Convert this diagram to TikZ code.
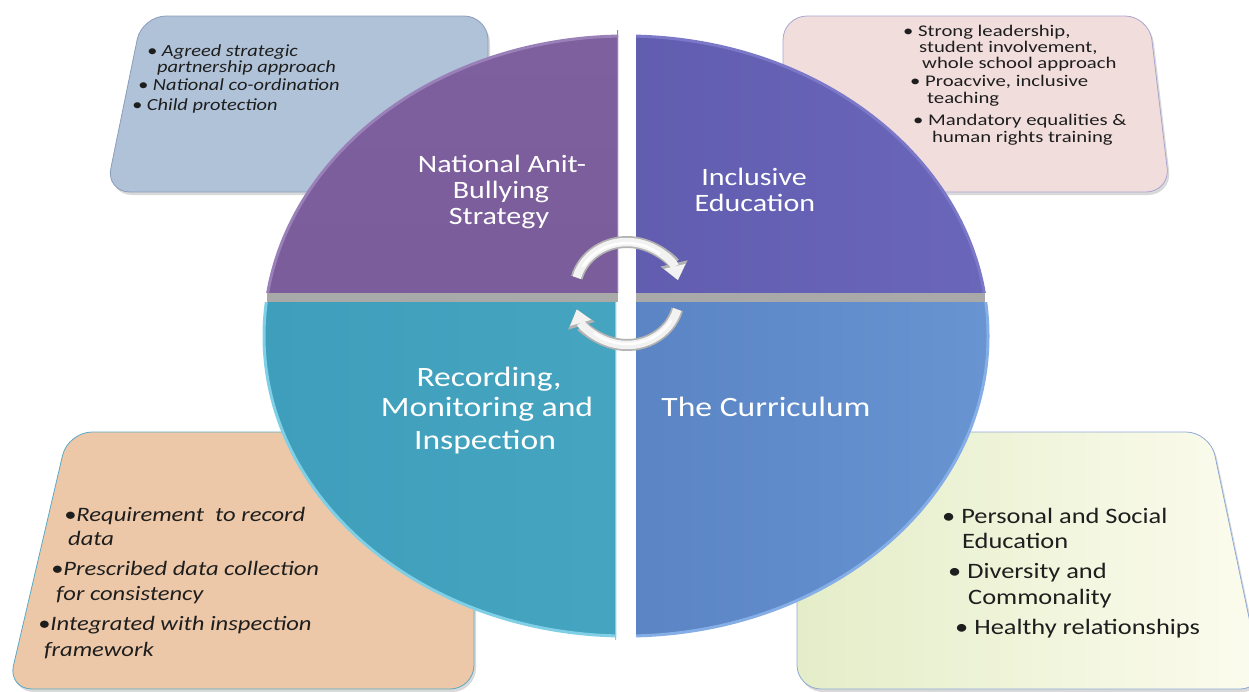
\documentclass[tikz,border=0pt]{standalone}
\usepackage{fontspec}
\setmainfont{Carlito}
\newfontfamily\wf[FakeStretch=1.2]{Carlito}
\newfontfamily\wfn[FakeStretch=1.27]{Carlito}
\usetikzlibrary{arrows.meta}
\definecolor{boxTL}{HTML}{B0C2D8}
\definecolor{boxTLb}{HTML}{8A9DBB}
\definecolor{boxTR}{HTML}{F2DDDD}
\definecolor{boxTRb}{HTML}{A8A6D0}
\definecolor{boxBL}{HTML}{ECC8A8}
\definecolor{boxBLb}{HTML}{5AAAC4}
\definecolor{boxBRl}{HTML}{E4EDC8}
\definecolor{boxBRr}{HTML}{FCFCEE}
\definecolor{boxBRb}{HTML}{8EAAD6}
\definecolor{qTLa}{HTML}{7D609D}
\definecolor{qTLb}{HTML}{765896}
\definecolor{qTLr}{HTML}{9A80B8}
\definecolor{qTRa}{HTML}{5853A5}
\definecolor{qTRb}{HTML}{6A66B9}
\definecolor{qTRr}{HTML}{7C78C8}
\definecolor{qBLa}{HTML}{3F9EBB}
\definecolor{qBLb}{HTML}{4CACC6}
\definecolor{qBLr}{HTML}{7FD0E6}
\definecolor{qBRa}{HTML}{4C74B6}
\definecolor{qBRb}{HTML}{6894D2}
\definecolor{qBRr}{HTML}{86AEE6}
\definecolor{band}{HTML}{A9A9A9}
\definecolor{txt}{HTML}{1E1E1E}
\tikzset{
 boxshape/.style={rounded corners=24pt, line width=0.8pt},
 boxshadow/.style={rounded corners=24pt, fill=black, opacity=0.15},
 qlab/.style={anchor=base, inner sep=0pt, text=white, font=\wf\fontsize{25}{25}\selectfont},
 qlabB/.style={qlab, font=\wf\fontsize{28}{28}\selectfont},
 tltxt/.style={anchor=base west, inner sep=0pt, text=txt, font=\wf\itshape\fontsize{17}{17}\selectfont},
 trtxt/.style={anchor=base west, inner sep=0pt, text=txt, font=\wfn\fontsize{16.3}{16.3}\selectfont},
 bltxt/.style={anchor=base west, inner sep=0pt, text=txt, font=\wf\itshape\fontsize{20.5}{20.5}\selectfont},
 brtxt/.style={anchor=base west, inner sep=0pt, text=txt, font=\wf\fontsize{22}{22}\selectfont},
 quadrim/.style={line width=3pt},
 cycout/.style={line width=12pt, draw=gray!60, -{Triangle[length=17pt,width=28pt,line width=0pt]}},
 cycin/.style={line width=8.5pt, draw=gray!10, -{Triangle[length=14pt,width=22pt,line width=0pt]}},
 cychi/.style={line width=2.5pt, draw=white},
}
\begin{document}
\begin{tikzpicture}[x=1pt,y=-1pt]
\useasboundingbox (0,0) rectangle (1249,691);
\clip (0,0) rectangle (1249,691);

% ---------- boxes ----------
\fill[boxshadow, xshift=2pt, yshift=-3pt] (300,16) -- (488,16) -- (488,192) -- (106,192) -- (142,16) -- cycle;
\draw[boxshape, fill=boxTL, draw=boxTLb] (300,16) -- (488,16) -- (488,192) -- (106,192) -- (142,16) -- cycle;

\fill[boxshadow, xshift=2pt, yshift=-3pt] (960,16) -- (1149,16) -- (1170,192) -- (783,192) -- (783,16) -- cycle;
\draw[boxshape, fill=boxTR, draw=boxTRb] (960,16) -- (1149,16) -- (1170,192) -- (783,192) -- (783,16) -- cycle;

\fill[boxshadow, xshift=2pt, yshift=-3pt] (300,432) -- (474,432) -- (474,689) -- (8,689) -- (68,432) -- cycle;
\draw[boxshape, fill=boxBL, draw=boxBLb] (300,432) -- (474,432) -- (474,689) -- (8,689) -- (68,432) -- cycle;

\fill[boxshadow, xshift=2pt, yshift=-3pt] (1000,432) -- (1210,432) -- (1264,689) -- (797,689) -- (797,432) -- cycle;
\draw[boxshape, left color=boxBRl, right color=boxBRr, draw=boxBRb] (1000,432) -- (1210,432) -- (1264,689) -- (797,689) -- (797,432) -- cycle;

% ---------- box texts ----------
\node[tltxt] (tl1) at (147,56) {\textbullet\ Agreed strategic};
\node[tltxt] (tl2) at (157,72) {partnership approach};
\node[tltxt] (tl3) at (138,90) {\textbullet\ National co-ordination};
\node[tltxt] (tl4) at (132,110) {\textbullet\ Child protection};

\node[trtxt] (tr1) at (903,36) {\textbullet\ Strong leadership,};
\node[trtxt] (tr2) at (919,52.5) {student involvement,};
\node[trtxt] (tr3) at (922,68.5) {whole school approach};
\node[trtxt] (tr4) at (910,86) {\textbullet\ Proacvive, inclusive};
\node[trtxt] (tr5) at (927,103) {teaching};
\node[trtxt] (tr6) at (913,125) {\textbullet\ Mandatory equalities \&};
\node[trtxt] (tr7) at (932,142) {human rights training};

\node[bltxt] (bl1) at (64,521) {\textbullet Requirement\ \ to record};
\node[bltxt] (bl2) at (68,545) {data};
\node[bltxt] (bl3) at (51,575) {\textbullet Prescribed data collection};
\node[bltxt] (bl4) at (56,600) {for consistency};
\node[bltxt] (bl5) at (38,630) {\textbullet Integrated with inspection};
\node[bltxt] (bl6) at (44,656) {framework};

\node[brtxt] (br1) at (942,523) {\textbullet\ Personal and Social};
\node[brtxt] (br2) at (962,548) {Education};
\node[brtxt] (br3) at (948,578) {\textbullet\ Diversity and};
\node[brtxt] (br4) at (968,604) {Commonality};
\node[brtxt] (br5) at (955,634) {\textbullet\ Healthy relationships};

% ---------- grey thickness band ----------
\fill[band] (267,292) rectangle (618,302);
\fill[band] (636,292) rectangle (985,302);

% ---------- quadrants ----------
\begin{scope}
 \clip (200,0) rectangle (618,292);
 \shade[top color=qTLa, bottom color=qTLb] (626,336) ellipse [x radius=362pt, y radius=300pt];
 \draw[quadrim, qTLr] (626,336) ellipse [x radius=362pt, y radius=300pt];
 \draw[qTLr, line width=2pt] (618,30) -- (618,292);
\end{scope}
\begin{scope}
 \clip (636,0) rectangle (1100,292);
 \shade[left color=qTRa, right color=qTRb] (626,336) ellipse [x radius=362pt, y radius=300pt];
 \draw[quadrim, qTRr] (626,336) ellipse [x radius=362pt, y radius=300pt];
\end{scope}
\begin{scope}
 \clip (200,302) rectangle (616,700);
 \shade[left color=qBLa, right color=qBLb] (626,336) ellipse [x radius=362pt, y radius=300pt];
 \draw[quadrim, qBLr] (626,336) ellipse [x radius=362pt, y radius=300pt];
 \draw[qBLr, line width=2pt] (616,302) -- (616,640);
\end{scope}
\begin{scope}
 \clip (636,302) rectangle (1100,700);
 \shade[left color=qBRa, right color=qBRb] (626,336) ellipse [x radius=362pt, y radius=300pt];
 \draw[quadrim, qBRr] (626,336) ellipse [x radius=362pt, y radius=300pt];
\end{scope}

% ---------- quadrant labels ----------
\node[qlab] (nab1) at (502,172) {National Anit-};
\node[qlab] (nab2) at (501,198) {Bullying};
\node[qlab] (nab3) at (499,224) {Strategy};
\node[qlab] (ie1) at (754,185) {Inclusive};
\node[qlab] (ie2) at (755,211) {Education};
\node[qlabB] (rmi1) at (489,386) {Recording,};
\node[qlabB] (rmi2) at (487,416) {Monitoring and};
\node[qlabB] (rmi3) at (485,449) {Inspection};
\node[qlabB] (cur) at (766,416) {The Curriculum};

% ---------- cycle arrows ----------
\coordinate (ca) at (627,290);
\coordinate (cb) at (627,297);
\draw[cycout] ([shift={(165:52pt and 48pt)}]ca) arc[start angle=165, end angle=12, x radius=52pt, y radius=48pt];
\draw[cycin] ([shift={(165:52pt and 48pt)}]ca) arc[start angle=165, end angle=12, x radius=52pt, y radius=48pt];
\draw[cychi] ([shift={(150:51pt and 47pt)}]ca) arc[start angle=150, end angle=50, x radius=51pt, y radius=47pt];
\draw[cycout] ([shift={(-15:52pt and 48pt)}]cb) arc[start angle=-15, end angle=-165, x radius=52pt, y radius=48pt];
\draw[cycin] ([shift={(-15:52pt and 48pt)}]cb) arc[start angle=-15, end angle=-165, x radius=52pt, y radius=48pt];
\draw[cychi] ([shift={(-30:51pt and 47pt)}]cb) arc[start angle=-30, end angle=-130, x radius=51pt, y radius=47pt];
\end{tikzpicture}
\end{document}
